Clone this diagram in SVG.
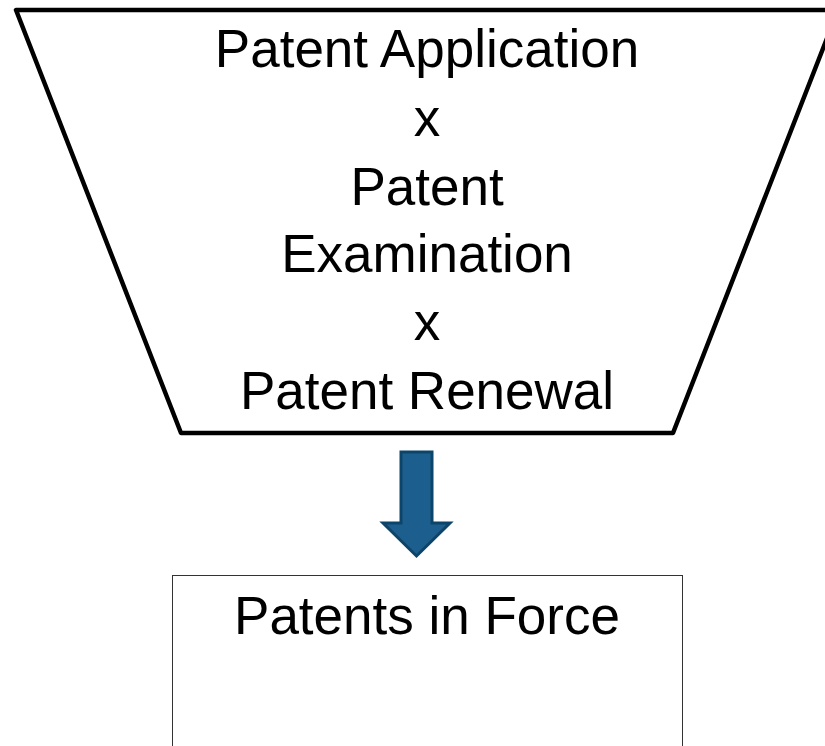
<svg xmlns="http://www.w3.org/2000/svg" width="825" height="746" viewBox="0 0 825 746">
  <style>
    .label { font-family: "Liberation Sans", Arial, sans-serif; font-size: 53px; fill: #000; text-anchor: middle; }
  </style>
  <rect width="825" height="746" fill="#fff"/>
  <g id="funnel">
    <polygon points="16,10 838,10 673,433 181,433" fill="#fff" stroke="#000" stroke-width="4.5" stroke-linejoin="round"/>
    <text class="label" x="427" y="67">Patent Application</text>
    <text class="label" x="427" y="136">x</text>
    <text class="label" x="427" y="205">Patent</text>
    <text class="label" x="427" y="272">Examination</text>
    <text class="label" x="427" y="340">x</text>
    <text class="label" x="427" y="409">Patent Renewal</text>
  </g>
  <g id="connectors">
    <polygon points="401,452 432,452 432,523 450,523 416.5,556 383,523 401,523" fill="#1c5f8e" stroke="#0d4469" stroke-width="3" stroke-linejoin="miter"/>
  </g>
  <g id="patents-in-force">
    <rect x="172.5" y="575.5" width="510" height="190" fill="#fff" stroke="#333" stroke-width="1"/>
    <text class="label" x="427" y="634">Patents in Force</text>
  </g>
</svg>
